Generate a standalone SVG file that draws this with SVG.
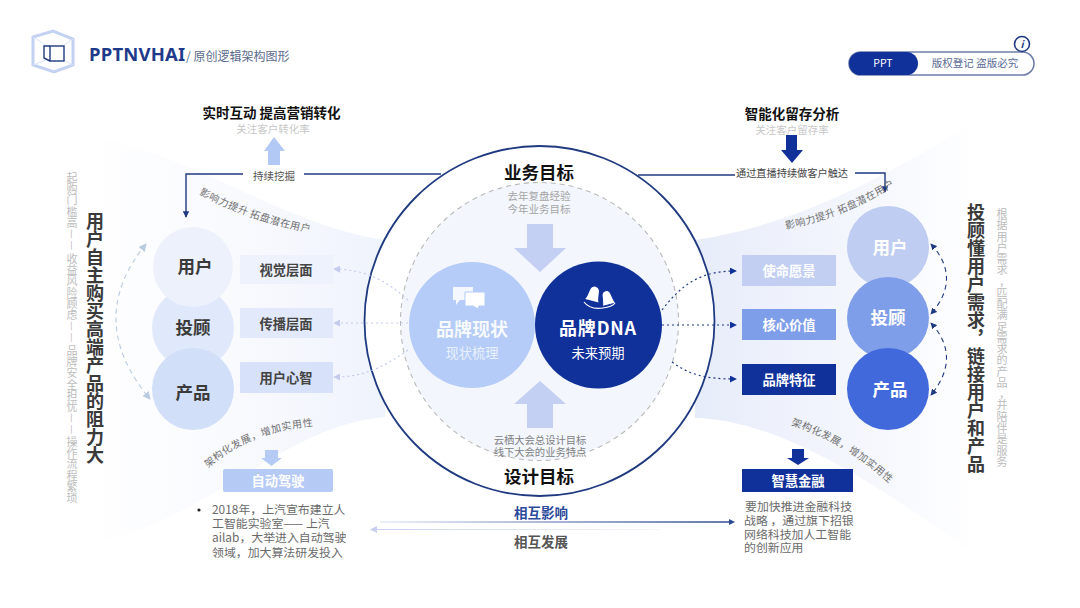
<svg xmlns="http://www.w3.org/2000/svg" width="1080" height="608" viewBox="0 0 1080 608">
<style>
text{font-family:"Noto Sans CJK SC","Noto Sans",sans-serif}
.m{text-anchor:middle}
.b{font-weight:700}
.w{fill:#fff}
.v{writing-mode:vertical-rl}
.sub{font-size:10.5px;fill:#c8c8c8}
.nl{font-size:17.500px;font-weight:700;fill:#3a3a3a;text-anchor:middle}
.nw{font-size:17.500px;font-weight:700;fill:#fff;text-anchor:middle}
.rl{font-size:13.300px;font-weight:700;text-anchor:middle}
.cv{font-size:10px;fill:#707070;letter-spacing:.5px}
.body{font-size:11.9px;fill:#6a6a6a}
.line{fill:none;stroke:#1f3a80;stroke-width:1.4}
.dotL{fill:none;stroke:#c3ccee;stroke-width:1.2;stroke-dasharray:2 3}
.dotR{fill:none;stroke:#1f3a80;stroke-width:1.2;stroke-dasharray:2 3}
</style>
<defs>
<linearGradient id="gl" x1="0" x2="1" y1="0" y2="0"><stop offset="0" stop-color="#fff"/><stop offset=".5" stop-color="#f9fafe"/><stop offset="1" stop-color="#eff3fc"/></linearGradient>
<linearGradient id="gr" x1="0" x2="1" y1="0" y2="0"><stop offset="0" stop-color="#e7ecfa"/><stop offset=".5" stop-color="#f4f6fd"/><stop offset=".9" stop-color="#fff"/></linearGradient>
<linearGradient id="ga" gradientUnits="userSpaceOnUse" x1="380" x2="735" y1="0" y2="0"><stop offset="0" stop-color="#e8ecf8"/><stop offset="1" stop-color="#2b4a8f"/></linearGradient>
<linearGradient id="gb" gradientUnits="userSpaceOnUse" x1="370" x2="660" y1="0" y2="0"><stop offset="0" stop-color="#c9d0ee"/><stop offset="1" stop-color="#f4f5fc"/></linearGradient>
<marker id="ad" viewBox="0 0 8 8" refX="7" refY="4" markerWidth="6.500" markerHeight="6.500" markerUnits="userSpaceOnUse" orient="auto-start-reverse"><path d="M0,0L8,4L0,8Z" fill="#1f3a80"/></marker>
<marker id="adb" viewBox="0 0 8 8" refX="7" refY="4" markerWidth="7" markerHeight="7" markerUnits="userSpaceOnUse" orient="auto-start-reverse"><path d="M0,0L8,4L0,8Z" fill="#10309a"/></marker>
<marker id="al" viewBox="0 0 8 8" refX="7" refY="4" markerWidth="7" markerHeight="7" markerUnits="userSpaceOnUse" orient="auto-start-reverse"><path d="M0,0L8,4L0,8Z" fill="#c3ccee"/></marker>
<marker id="ag" viewBox="0 0 8 8" refX="7" refY="4" markerWidth="8" markerHeight="8" markerUnits="userSpaceOnUse" orient="auto-start-reverse"><path d="M0,0L8,4L0,8Z" fill="#b9cbe0"/></marker>
<path id="c1" d="M199,194 Q250,222 313,233"/>
<path id="c2" d="M786,229 Q845,218 897,184"/>
<path id="c3" d="M208,468 Q250,431 313,426"/>
<path id="c4" d="M791,425 Q845,442 891,485"/>
<path id="bell" d="M-7,8C-5,6 -5,-2 -4,-4A4.500,4.500 0 0 1 4,-4C5,-2 5,6 7,8Z"/>
</defs>
<rect width="1080" height="608" fill="#fff"/>
<g id="bands">
<path d="M80,135C190,150 280,225 385,240L385,417C280,425 200,530 80,545Z" fill="url(#gl)"/>
<path d="M695,240C800,225 900,170 1010,100L1010,580C900,500 790,420 695,418Z" fill="url(#gr)"/>
</g>
<g id="header">
<g id="logo" fill="none">
<path d="M33,37L53,31L73,39V65L54,72L33,65Z" stroke="#c3d2f3" stroke-width="3"/>
<path d="M33,37L46,45M73,39L64,45M33,65L46,60M73,65L64,60" stroke="#dbe4f8" stroke-width="1"/>
<rect x="50" y="46" width="14" height="15" stroke="#1f3a80" stroke-width="1.400"/>
<path d="M50,46H44V58L50,61" stroke="#1f3a80" stroke-width="1.400"/>
</g>
<text x="89" y="61" font-size="18.500" font-weight="700" fill="#1f3a8a" letter-spacing=".2" style="font-family:'Noto Sans',sans-serif">PPTNVHAI</text>
<text x="186" y="61" font-size="12" fill="#5b6b8c">/ 原创逻辑架构图形</text>
<g id="badge">
<rect x="849" y="52" width="185" height="23" rx="11.500" fill="#fff" stroke="#6f7fa8" stroke-width="1.600"/>
<rect x="849" y="52" width="69" height="23" rx="11.500" fill="#10309a"/>
<text x="883" y="67" class="m w" font-size="10.500">PPT</text>
<text x="975" y="67" class="m" font-size="10.500" fill="#5a6a95">版权登记 盗版必究</text>
<circle cx="1022" cy="44" r="7.500" fill="#fff" stroke="#1f3a80" stroke-width="1.600"/>
<text x="1022" y="48" class="m b" font-size="10" font-style="italic" fill="#1f3a80">i</text>
</g>
</g>
<g id="hub">
<circle cx="539.500" cy="321" r="175" fill="#fff" stroke="#1f3a80" stroke-width="1.800"/>
<circle cx="539.500" cy="321.500" r="139" fill="#f3f6fd" stroke="#b9b9b9" stroke-width="1.100" stroke-dasharray="5 4"/>
<path d="M527,224H553V248H566L540,272L514,248H527Z" fill="#c3d0f3"/>
<path d="M527,428H553V404H566L540,381L514,404H527Z" fill="#c3d0f3"/>
<text x="539" y="179" class="m b" font-size="17.500" fill="#111">业务目标</text>
<text x="539" y="200" class="m" font-size="10.500" fill="#a5a5a5">去年复盘经验</text>
<text x="539" y="213" class="m" font-size="10.500" fill="#a5a5a5">今年业务目标</text>
<text x="540" y="444" class="m" font-size="10.300" fill="#808080">云栖大会总设计目标</text>
<text x="540" y="456" class="m" font-size="10.300" fill="#808080">线下大会的业务特点</text>
<text x="539" y="483" class="m b" font-size="17.500" fill="#111">设计目标</text>
</g>
<g id="connectors">
<path class="dotL" marker-end="url(#al)" d="M408,300C380,275 360,270 334,269"/>
<path class="dotL" marker-end="url(#al)" d="M408,323H334"/>
<path class="dotL" marker-end="url(#al)" d="M408,350C380,370 360,377 334,377"/>
<path class="dotR" marker-end="url(#adb)" d="M662,310C685,280 705,271 736,271"/>
<path class="dotR" marker-end="url(#adb)" d="M662,325H736"/>
<path class="dotR" marker-end="url(#adb)" d="M672,362C690,375 705,379 736,379"/>
<path class="line" marker-end="url(#ad)" d="M243,174H186V217"/>
<path class="line" d="M304,174H441"/>
<path class="line" d="M638,175H735"/>
<path class="line" marker-end="url(#ad)" d="M855,173H885V192"/>
<path fill="none" stroke="#b9cbe0" stroke-width="1.100" stroke-dasharray="5 4" marker-start="url(#ag)" marker-end="url(#ag)" d="M146,244Q84,320 150,399"/>
<path fill="none" stroke="#1f3a80" stroke-width="1.100" stroke-dasharray="5 4" marker-start="url(#ad)" marker-end="url(#ad)" d="M931,244Q962,278 931,314"/>
<path fill="none" stroke="#1f3a80" stroke-width="1.100" stroke-dasharray="5 4" marker-start="url(#ad)" marker-end="url(#ad)" d="M931,323Q962,357 931,395"/>
<path fill="none" stroke="url(#ga)" stroke-width="1.400" d="M380,522H730"/>
<path d="M735,522L729,519V525Z" fill="#2b4a8f"/>
<path fill="none" stroke="url(#gb)" stroke-width="1.200" d="M376,529.500H660"/>
<path d="M370,529.500L377,526V533Z" fill="#c9d0ee"/>
</g>
<g id="top-left">
<text x="271.500" y="118" class="m b" font-size="13.500" fill="#111">实时互动 提高营销转化</text>
<text x="273" y="133" class="m sub">关注客户转化率</text>
<path d="M268,165H280V151H285L274,137L264,151H268Z" fill="#b3c9f5"/>
<text x="274" y="180" class="m" font-size="10.500" fill="#555">持续挖掘</text>
</g>
<g id="top-right">
<text x="792" y="119" class="m b" font-size="13.500" fill="#111">智能化留存分析</text>
<text x="792" y="134" class="m sub">关注客户留存率</text>
<path d="M786,135H797V150H803L792,163L781,150H786Z" fill="#10309a"/>
<text x="792" y="177" class="m" font-size="10.200" fill="#444">通过直播持续做客户触达</text>
</g>
<g id="left-title">
<text x="95" y="212" class="v b" font-size="18" fill="#3a3a3a">用户自主购买高端产品的阻力大</text>
<text font-size="11" fill="#bcbcbc"
x="66.500 66.500 66.500 66.500 66.500 68 68 66.500 66.500 66.500 66.500 66.500 66.500 68 68 66.500 66.500 66.500 66.500 66.500 66.500 68 68 66.500 66.500 66.500 66.500 66.500 66.500"
y="182 193.200 204.400 215.600 226.800 229 240.500 263 274.200 285.400 296.600 307.800 319 321 332.500 355 366.200 377.400 388.600 399.800 411 413 424.500 446 457.200 468.400 479.600 490.800 502"
rotate="0 0 0 0 0 90 90 0 0 0 0 0 0 90 90 0 0 0 0 0 0 90 90 0 0 0 0 0 0">起购门槛高——收益风险顾虑——品牌安全担忧——操作流程繁琐</text>
</g>
<g id="right-title">
<text x="976" y="203" class="v b" font-size="18" fill="#3a3a3a">投顾懂用户需求，链接用户和产品</text>
<text font-size="11" fill="#bcbcbc" x="996.500"
y="218 229.300 240.500 251.800 263 274.300 285.600 296.800 308.100 319.300 330.600 341.900 353.100 364.400 375.600 386.900 398.200 409.400 420.700 431.900 443.200 454.500 465.700"
style="white-space:pre"><tspan x="996.500 996.500 996.500 996.500 996.500 996.500 999 996.500 996.500 996.500 996.500 996.500 996.500 996.500 996.500 996.500 999 996.500 996.500 996.500 996.500 996.500 996.500">根据用户需求，匹配满足需求的产品，并陪伴是服务</tspan></text>
</g>
<g id="curved-labels">
<text class="cv"><textPath href="#c1">影响力提升 拓盘潜在用户</textPath></text>
<text class="cv"><textPath href="#c2">影响力提升 拓盘潜在用户</textPath></text>
<text class="cv"><textPath href="#c3">架构化发展，增加实用性</textPath></text>
<text class="cv"><textPath href="#c4">架构化发展，增加实用性</textPath></text>
</g>
<g id="node-touguL"><circle cx="193" cy="328" r="41" fill="#e0e8fb"/><text x="193" y="334" class="nl">投顾</text></g>
<g id="node-yonghuL"><circle cx="193" cy="267" r="40" fill="#edf1fc"/><text x="195" y="273" class="nl">用户</text></g>
<g id="node-chanpinL"><circle cx="193" cy="389" r="41" fill="#d2dff9"/><text x="193" y="399" class="nl">产品</text></g>
<g id="node-shijue"><rect x="240" y="255" width="93" height="29" fill="#eef2fc"/><text x="286" y="275" class="rl" fill="#444">视觉层面</text></g>
<g id="node-chuanbo"><rect x="240" y="308" width="93" height="30" fill="#e2e9fb"/><text x="286" y="329" class="rl" fill="#444">传播层面</text></g>
<g id="node-xinzhi"><rect x="240" y="362" width="93" height="31" fill="#d7e2fa"/><text x="286" y="383" class="rl" fill="#444">用户心智</text></g>
<g id="node-xianzhuang"><circle cx="472" cy="325" r="63" fill="#b4ccf7"/>
<path d="M453,287H473V300H460L456,305V300H453Z" fill="#fff" opacity=".85"/>
<path d="M465,292H485V306H479L478,309L473,306H465Z" fill="#fff" stroke="#b4ccf7"/>
<text x="472" y="336" class="nw" style="font-size:18px;opacity:.9">品牌现状</text><text x="472" y="358" class="m" font-size="13.300" fill="#e9f0fd">现状梳理</text></g>
<g id="node-dna"><circle cx="598.500" cy="325" r="63.500" fill="#10309a"/>
<use href="#bell" transform="translate(594,293) rotate(15)" fill="#fff"/>
<use href="#bell" transform="translate(607,297) rotate(-15)" fill="#fff" stroke="#10309a"/>
<path d="M584,302Q590,310 603,308Q612,307 615,303" fill="none" stroke="#fff" stroke-width="1.200"/>
<text x="598" y="335" class="nw" style="font-size:18px;letter-spacing:.8px">品牌DNA</text><text x="598" y="358" class="m" font-size="13.300" fill="#fff">未来预期</text></g>
<g id="node-shiming"><rect x="742" y="255" width="94" height="31" fill="#c2cff2"/><text x="789" y="276" class="rl w">使命愿景</text></g>
<g id="node-hexin"><rect x="742" y="309" width="94" height="31" fill="#7f9eea"/><text x="789" y="330" class="rl w">核心价值</text></g>
<g id="node-tezheng"><rect x="742" y="364" width="94" height="31" fill="#10309a"/><text x="789" y="385" class="rl w">品牌特征</text></g>
<g id="node-yonghuR"><circle cx="888" cy="247" r="41" fill="#bfcdf2"/><text x="890" y="254" class="nw">用户</text></g>
<g id="node-touguR"><circle cx="888" cy="318" r="41" fill="#7f9eea"/><text x="888" y="324" class="nw">投顾</text></g>
<g id="node-chanpinR"><circle cx="888" cy="389" r="41" fill="#4169dc"/><text x="890" y="396" class="nw">产品</text></g>
<g id="node-zidong">
<path d="M265,450H278V458H282L271.500,466L261,458H265Z" fill="#b5caf5"/>
<rect x="223" y="469" width="110" height="23" rx="2" fill="#b5caf5"/><text x="278" y="486" class="rl w">自动驾驶</text>
<circle cx="199" cy="510" r="1.600" fill="#222"/>
<text x="212" y="514" class="body">2018年，上汽宣布建立人</text>
<text x="212" y="528" class="body">工智能实验室—— 上汽</text>
<text x="212" y="542" class="body">ailab，大举进入自动驾驶</text>
<text x="212" y="557" class="body">领域，加大算法研发投入</text>
</g>
<g id="node-jinrong">
<path d="M792,449H804V458H809L798,465L787,458H792Z" fill="#10309a"/>
<rect x="742" y="469" width="111" height="23" fill="#10309a"/><text x="798" y="486" class="rl w">智慧金融</text>
<text x="745" y="511" class="body">要加快推进金融科技</text>
<text x="744" y="525" class="body">战略 ，通过旗下招银</text>
<text x="744" y="539" class="body">网络科技加人工智能</text>
<text x="744" y="552" class="body">的创新应用</text>
</g>
<g id="bottom-labels">
<text x="541" y="518" class="m b" font-size="13.500" fill="#2b4a9a">相互影响</text>
<text x="541" y="547" class="m b" font-size="13.500" fill="#555">相互发展</text>
</g>
</svg>
